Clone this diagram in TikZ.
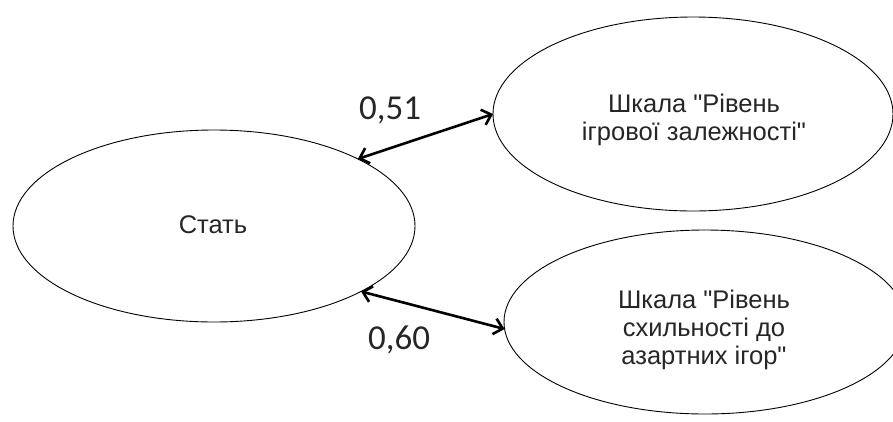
\documentclass[tikz,border=0pt]{standalone}
\usepackage{fontspec}
\setmainfont{Liberation Sans}[Ligatures=TeXOff]
\newfontfamily\numfont{Carlito}
\usetikzlibrary{shapes.geometric,arrows.meta}
\tikzset{
  ell/.style={draw=black, line width=0.9pt, ellipse, outer sep=0pt, inner sep=0pt},
  etext/.style={align=center, text=black!85, font=\fontsize{25.5}{28}\selectfont},
  conn/.style={line width=2.6pt, {Straight Barb[length=8.5pt,width=16pt]}-{Straight Barb[length=8.5pt,width=16pt]}},
  num/.style={text=black!85, font=\numfont\fontsize{35}{40}\selectfont, inner sep=0pt}
}
\begin{document}
\begin{tikzpicture}[x=1pt,y=-1pt]
\useasboundingbox[fill=white] (0,0) rectangle (893,421);
\node[ell, minimum width=402pt, minimum height=192pt] (stat) at (214,226) {};
\node[etext] (stattext) at (213,225) {Стать};
\node[ell, minimum width=400pt, minimum height=194pt] (top) at (693,114) {};
\node[etext] (toptext) at (694,120) {Шкала "Рівень\\ігрової залежності"};
\node[ell, minimum width=402pt, minimum height=184pt] (bot) at (705,322) {};
\node[etext] (bottext) at (704,330) {Шкала "Рівень\\схильності до\\азартних ігор"};
\draw[conn] (stat.25.7) -- (top.180);
\draw[conn] (stat.-24.6) -- (bot.182.3);
\node[num] (n1) at (390,110) {0,51};
\node[num] (n2) at (399,340) {0,60};
\end{tikzpicture}
\end{document}
